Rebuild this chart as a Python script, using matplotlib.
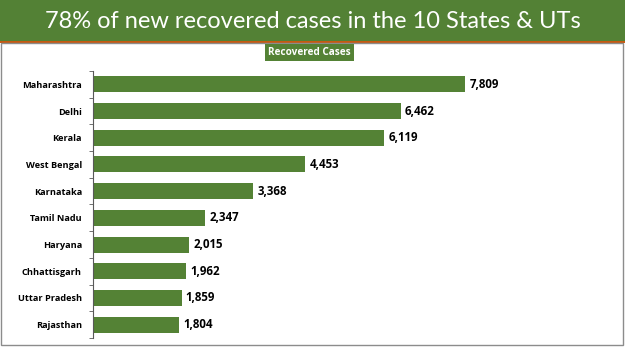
import matplotlib.pyplot as plt
from matplotlib.patches import Rectangle

states = ["Maharashtra", "Delhi", "Kerala", "West Bengal", "Karnataka",
          "Tamil Nadu", "Haryana", "Chhattisgarh", "Uttar Pradesh", "Rajasthan"]
recovered = [7809, 6462, 6119, 4453, 3368, 2347, 2015, 1962, 1859, 1804]

TITLE = "78% of new recovered cases in the 10 States & UTs"
LEGEND = "Recovered Cases"

GREEN = "#548235"
HEADER = "#538135"

W, H = 625, 351
fig = plt.figure(figsize=(W / 100, H / 100), dpi=100)
fig.patch.set_facecolor("white")

# header band, accent line and panel border (figure pixel coords -> fractions)
fig.patches.append(Rectangle((0, 1 - 41 / H), 1, 41 / H, transform=fig.transFigure,
                             facecolor=HEADER, edgecolor="none"))
fig.patches.append(Rectangle((0, 1 - 42.5 / H), 1, 1.5 / H, transform=fig.transFigure,
                             facecolor="#c55a11", edgecolor="none"))
fig.patches.append(Rectangle((1.5 / W, 1 - 345 / H), 621 / W, 302 / H,
                             transform=fig.transFigure, facecolor="none",
                             edgecolor="#8c8c8c", linewidth=1.0))
fig.text(0.5, 1 - 21 / H, TITLE, ha="center", va="center", color="white",
         fontsize=17, family="Lato")

# legend box
fig.text(0.5 * (262 + 357) / W, 1 - 52.5 / H, LEGEND, ha="center", va="center",
         color="white", fontsize=7.2, weight="bold", family="Open Sans",
         bbox=dict(boxstyle="square,pad=0.3", facecolor=GREEN, edgecolor="none"))

ax = fig.add_axes([93 / W, 1 - 338 / H, 520 / W, 267 / H])
y = list(range(len(states)))
ax.barh(y, recovered, height=0.6, color=GREEN)
ax.set_ylim(len(states) - 0.5, -0.5)
ax.set_xlim(0, 520 / ((465 - 93) / 7809))
ax.set_yticks(y)
ax.set_yticklabels(states, fontsize=6.6, weight="bold", family="Open Sans")
ax.set_yticks([i - 0.5 for i in range(len(states) + 1)], minor=True)
ax.tick_params(axis="y", which="major", length=0, pad=8)
ax.tick_params(axis="y", which="minor", length=3, direction="out", color="#595959")
ax.set_xticks([])
for side in ("top", "right", "bottom"):
    ax.spines[side].set_visible(False)
ax.spines["left"].set_color("#595959")
ax.spines["left"].set_linewidth(0.8)
ax.patch.set_alpha(0)

for yi, v in zip(y, recovered):
    ax.text(v + 90, yi, f"{v:,}", va="center", ha="left", fontsize=8.3,
            weight="bold", family="Open Sans")

fig.savefig("out.png", dpi=100, facecolor="white")
